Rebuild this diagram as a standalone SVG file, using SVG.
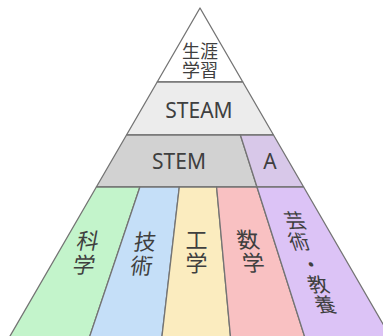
<svg xmlns="http://www.w3.org/2000/svg" width="383" height="336" viewBox="0 0 383 336">
<style>
.band{stroke:#747474;stroke-width:1.3;stroke-linejoin:round}
.lbl{font-family:"Noto Sans CJK JP","Noto Sans",sans-serif;fill:#3f3f3f;text-anchor:middle}
.lat{font-family:"Noto Sans","Noto Sans CJK JP",sans-serif;fill:#3f3f3f;text-anchor:middle;font-size:21px}
.cj{font-size:22px}
.cs{font-size:20px}
</style>
<rect width="383" height="336" fill="#fff"/>
<g id="lifelong">
<polygon class="band" fill="#ffffff" points="200,8 242.8,82 157.2,82"/>
<text class="lbl" font-size="18" x="200" y="58">生涯</text>
<text class="lbl" font-size="18" x="200" y="77">学習</text>
</g>
<g id="steam">
<polygon class="band" fill="#ececec" points="157.2,82 242.8,82 273.5,135 126.5,135"/>
<text class="lat" x="199" y="118">STEAM</text>
</g>
<g id="stem">
<polygon class="band" fill="#d2d2d2" points="126.5,135 240.4,135 257,187 96.35,187"/>
<text class="lat" x="179" y="169" font-size="22">STEM</text>
</g>
<g id="a">
<polygon class="band" fill="#d8c8e9" points="240.4,135 273.5,135 303.65,187 257,187"/>
<text class="lat" x="270" y="169" font-size="22">A</text>
</g>
<g id="science">
<polygon class="band" fill="#c3f4cb" points="96.35,187 139.9,187 88.5,340 7.75,340"/>
<g transform="translate(88,241) skewX(-11)"><text class="lbl cj" x="0" y="8">科</text></g>
<g transform="translate(84,265) skewX(-11)"><text class="lbl cj" x="0" y="8">学</text></g>
</g>
<g id="technology">
<polygon class="band" fill="#c5dff8" points="139.9,187 179.3,187 161.55,340 88.5,340"/>
<g transform="translate(145,242) skewX(-8)"><text class="lbl cj" x="0" y="8">技</text></g>
<g transform="translate(141.5,266) skewX(-8)"><text class="lbl cj" x="0" y="8">術</text></g>
</g>
<g id="engineering">
<polygon class="band" fill="#fbecbf" points="179.3,187 216.6,187 230.8,340 161.55,340"/>
<text class="lbl cj" x="196.5" y="248">工</text>
<text class="lbl cj" x="196.5" y="271">学</text>
</g>
<g id="mathematics">
<polygon class="band" fill="#f9c1c2" points="216.6,187 257,187 305.7,340 230.8,340"/>
<g transform="translate(248,240) skewX(11)"><text class="lbl cj" x="0" y="8">数</text></g>
<g transform="translate(253.5,263) skewX(11)"><text class="lbl cj" x="0" y="8">学</text></g>
</g>
<g id="arts">
<polygon class="band" fill="#dcc3f6" points="257,187 303.65,187 392.25,340 305.7,340"/>
<g transform="translate(295,220) skewX(20)"><text class="lbl cs" x="0" y="7.5">芸</text></g>
<g transform="translate(299,241) skewX(20)"><text class="lbl cs" x="0" y="7.5">術</text></g>
<g transform="translate(311,264) skewX(20)"><text class="lbl cs" x="0" y="7.5">・</text></g>
<g transform="translate(318,284) skewX(20)"><text class="lbl cs" x="0" y="7.5">教</text></g>
<g transform="translate(325,304) skewX(20)"><text class="lbl cs" x="0" y="7.5">養</text></g>
</g>
</svg>
